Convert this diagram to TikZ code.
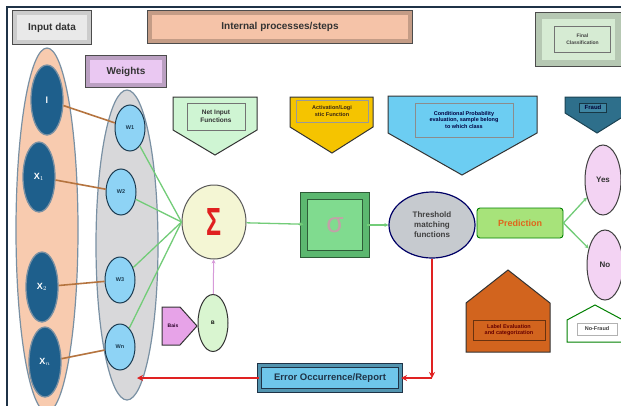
\documentclass[tikz,border=0pt]{standalone}
\usepackage{fontspec}
\setmainfont{Liberation Sans}
\usetikzlibrary{shapes.geometric,arrows.meta}
\definecolor{frame}{HTML}{1F3347}
\definecolor{salmon}{HTML}{F8CBAF}
\definecolor{bigline}{HTML}{7990A3}
\definecolor{grayell}{HTML}{D8D8DA}
\definecolor{xblue}{HTML}{1E5F8C}
\definecolor{wblue}{HTML}{8ED3F5}
\definecolor{wline}{HTML}{1A3A50}
\definecolor{sumfill}{HTML}{F4F6D4}
\definecolor{sumred}{HTML}{E02020}
\definecolor{sigin}{HTML}{80DB8F}
\definecolor{sigout}{HTML}{5CB870}
\definecolor{sigtxt}{HTML}{C4A0A8}
\definecolor{thrfill}{HTML}{C6CACF}
\definecolor{predfill}{HTML}{A7E37A}
\definecolor{predtxt}{HTML}{E0651A}
\definecolor{pinkell}{HTML}{F3D3F3}
\definecolor{fraud}{HTML}{2E6F8B}
\definecolor{fraudin}{HTML}{3F86A3}
\definecolor{condfill}{HTML}{6CCDF2}
\definecolor{actfill}{HTML}{F5C400}
\definecolor{netfill}{HTML}{CFF5D3}
\definecolor{labfill}{HTML}{D2641E}
\definecolor{biasfill}{HTML}{E7A3E8}
\definecolor{bfill}{HTML}{D9F5D0}
\definecolor{errfill}{HTML}{6EC6EA}
\definecolor{finfill}{HTML}{D6EBD3}
\definecolor{wtbox}{HTML}{EAC8F2}
\definecolor{inbox}{HTML}{E9E9E9}
\definecolor{intbox}{HTML}{F5C3A8}
\definecolor{brownl}{HTML}{B5743F}
\definecolor{greenl}{HTML}{72CC78}
\definecolor{redl}{HTML}{E02222}
\definecolor{pinkl}{HTML}{D79AD9}
\begin{document}
\begin{tikzpicture}[x=1pt,y=-1pt,
  bevbox/.style={draw=black!70, line width=0.7pt, double distance=4pt, inner sep=0pt, font=\bfseries\fontsize{10}{12}\selectfont, text=black!80},
  xnode/.style={ellipse, fill=xblue, draw=bigline, line width=1.3pt, minimum width=32pt, minimum height=70pt, inner sep=0pt, text=white, font=\bfseries\fontsize{9}{10}\selectfont},
  wnode/.style={ellipse, fill=wblue, draw=wline, line width=1pt, minimum width=30pt, minimum height=46pt, inner sep=0pt, text=wline, font=\bfseries\fontsize{5.5}{6}\selectfont},
  innerbox/.style={draw=black!55, line width=0.4pt, inner sep=0.5pt, align=center, font=\bfseries\fontsize{5.5}{6.5}\selectfont},
  shapeline/.style={draw=black!80, line width=1pt},
  pinkell/.style={ellipse, fill=pinkell, draw=black!75, line width=1pt, minimum width=36pt, minimum height=70pt, inner sep=0pt, font=\bfseries\fontsize{8}{9}\selectfont, text=black!80},
  brownline/.style={draw=brownl, line width=1.6pt},
  greenline/.style={draw=greenl, line width=1.3pt},
  greenarrow/.style={draw=greenl, line width=1.3pt, -{Stealth[length=4pt,width=4pt]}},
  redarrow/.style={draw=redl, line width=1.6pt, -{Stealth[length=6pt,width=6pt]}}
]
\useasboundingbox (0,0) rectangle (621,405);
\begin{scope}
\clip (0,0) rectangle (621,405);
\fill[white] (0,0) rectangle (621,405);
% frame
\draw[frame, line width=1.6pt] (7,410) -- (7,7) -- (630,7);
% big ellipses
\draw[fill=salmon, draw=bigline, line width=1.2pt] (47,230) ellipse [x radius=31, y radius=182];
\draw[fill=grayell, draw=bigline, line width=1.2pt] (127,245) ellipse [x radius=31, y radius=155];
% header boxes
\node[bevbox, fill=inbox, double=black!20, minimum width=74.6pt, minimum height=29.6pt] (indata) at (52,27.5) {Input data};
\node[bevbox, fill=intbox, double=intbox!80!black, minimum width=260.6pt, minimum height=28.6pt] (internal) at (280,27) {Internal processes/steps};
\node[bevbox, fill=wtbox, double=wtbox!80!black, minimum width=76.6pt, minimum height=27.6pt] (weights) at (126,71.5) {Weights};
\node[bevbox, fill=finfill, double=finfill!85!black, double distance=6pt, minimum width=79.6pt, minimum height=47.6pt] (final) at (578.5,39.5) {};
\node[innerbox, fill=finfill, minimum width=56pt, minimum height=26pt, font=\bfseries\fontsize{5}{6.5}\selectfont, text=black!75] (finalt) at (582.5,39) {Final\\Classification};
% input nodes
\node[xnode] (l) at (47,100) {l};
\node[xnode] (X1) at (39,177) {X$_1$};
\node[xnode] (X2) at (42,287) {X$_2$};
\node[xnode] (Xn) at (45,362) {X$_n$};
% weight nodes
\node[wnode] (W1) at (130,128) {W1};
\node[wnode] (W2) at (121,192) {W2};
\node[wnode] (W3) at (120,280) {W3};
\node[wnode] (Wn) at (120,347) {Wn};
% sum
\node[ellipse, fill=sumfill, draw=black!65, line width=1pt, minimum width=64pt, minimum height=74pt, inner sep=0pt, text=sumred, font=\bfseries] (sum) at (214,222) {\resizebox{15pt}{27pt}{Σ}};
% brown lines
\draw[brownline] (l) -- (W1);
\draw[brownline] (X1) -- (W2);
\draw[brownline] (X2) -- (W3);
\draw[brownline] (Xn) -- (Wn);
% green lines to sum
\draw[greenline] (W1) -- (sum.west);
\draw[greenline] (W2) -- (sum.west);
\draw[greenline] (W3) -- (sum.west);
\draw[greenline] (Wn) -- (sum.west);
% down pentagons
\path[shapeline, fill=netfill] (173,97) -- (257,97) -- (257,130) -- (215,155) -- (173,130) -- cycle;
\node[innerbox, fill=netfill, minimum width=58pt, minimum height=27pt, font=\bfseries\fontsize{6.5}{7.5}\selectfont, text=black!80] (netin) at (216,116.5) {Net Input\\Functions};
\path[shapeline, fill=actfill] (290,97) -- (373,97) -- (373,127) -- (332,153) -- (290,127) -- cycle;
\node[innerbox, draw=black!40, fill=actfill, minimum width=72pt, minimum height=22pt, text=black!70!brown] (act) at (332,111) {Activation/Logi\\stic Function};
\path[shapeline, fill=condfill] (388,96) -- (537,96) -- (537,133) -- (462,175) -- (388,133) -- cycle;
\node[innerbox, draw=black!45, fill=condfill, minimum width=98pt, minimum height=34pt, text=black!75!blue] (cond) at (464,120) {Conditional Probability\\evaluation, sample belong\\to which class};
\path[shapeline, draw=fraud!60!black, fill=fraud] (565,97) -- (629,97) -- (629,113) -- (597,133) -- (565,113) -- cycle;
\node[innerbox, draw=fraud!50!black, fill=fraudin, minimum width=27pt, minimum height=9pt, font=\bfseries\fontsize{6}{7}\selectfont, text=black!80!blue] (fraudt) at (593,107.5) {Fraud};
% sigma box
\node[bevbox, fill=sigin, draw=sigout!50!black, double=sigout, line width=0.8pt, double distance=6pt, minimum width=62.4pt, minimum height=58.4pt, text=sigtxt, font=\fontsize{28}{28}\selectfont] (sig) at (335,225) {σ};
% threshold
\node[ellipse, fill=thrfill, draw=black!60!blue, line width=1.2pt, minimum width=86pt, minimum height=66pt, inner sep=0pt, align=center, font=\bfseries\fontsize{8}{10}\selectfont, text=black!75] (thr) at (432,225) {Threshold\\matching\\functions};
% prediction
\node[draw=black!50!green, fill=predfill, line width=0.9pt, rounded corners=3pt, minimum width=86pt, minimum height=30pt, inner sep=0pt, text=predtxt, font=\bfseries\fontsize{9}{10}\selectfont] (pred) at (520,223) {Prediction};
% yes / no
\node[pinkell] (yes) at (603,180) {Yes};
\node[pinkell] (no) at (605,265) {No};
% label evaluation house
\path[shapeline, fill=labfill] (508,270) -- (550,303) -- (550,352) -- (466,352) -- (466,303) -- cycle;
\node[innerbox, draw=black!50!labfill, fill=labfill, minimum width=72pt, minimum height=20pt, text=black!60!red] (labelt) at (509,330) {Label Evaluation\\and categorization};
% no-fraud house
\path[draw=black!50!green, line width=1pt, fill=white] (595,305) -- (623,320) -- (623,342) -- (567,342) -- (567,320) -- cycle;
\node[innerbox, draw=black!30, fill=white, minimum width=40pt, minimum height=12pt, text=black!75] (nofraudt) at (597,329) {No-Fraud};
% bias
\path[shapeline, fill=biasfill] (162,307) -- (180,307) -- (197,326) -- (180,345) -- (162,345) -- cycle;
\node[font=\bfseries\fontsize{5}{6}\selectfont, text=black!70!violet, inner sep=0pt] (bias) at (173,326) {Bais};
\node[ellipse, fill=bfill, draw=black!80, line width=1pt, minimum width=30pt, minimum height=57pt, inner sep=0pt, font=\bfseries\fontsize{5}{6}\selectfont] (bnode) at (213,323) {B};
% error box
\node[bevbox, fill=errfill, draw=frame, double=errfill!75!black, line width=0.8pt, double distance=3pt, minimum width=141.4pt, minimum height=25.4pt, font=\bfseries\fontsize{9.5}{11}\selectfont, text=frame] (err) at (330,378) {Error Occurrence/Report};
% connectors
\draw[greenarrow] (sum) -- (sig);
\draw[greenarrow] (sig) -- (thr);
\draw[greenarrow] (pred.east) -- (yes);
\draw[greenarrow] (pred.east) -- (no);
\draw[draw=pinkl, line width=1pt, -{Stealth[length=4pt,width=4pt]}] (bnode) -- (sum);
\coordinate (corner) at (thr.south |- err.east);
\coordinate (wend) at (137,378);
\draw[redarrow] (thr.south) -- (corner);
\draw[redarrow] (corner) -- (err.east);
\draw[redarrow] (err.west) -- (wend);
\end{scope}
\end{tikzpicture}
\end{document}
